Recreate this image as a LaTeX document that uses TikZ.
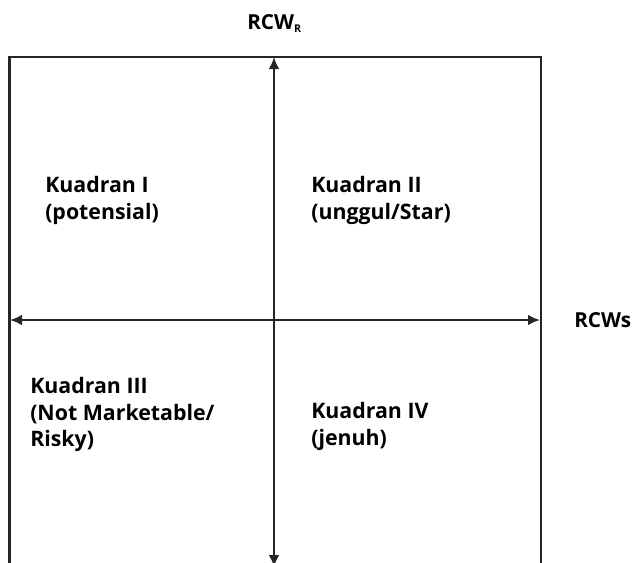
\documentclass[tikz,border=0pt]{standalone}
\usepackage{fontspec}
\setmainfont{Open Sans}
\usetikzlibrary{arrows.meta}
\begin{document}
\begin{tikzpicture}[x=0.75pt, y=-0.75pt,
  quad/.style = {anchor=north west, inner sep=0pt, align=left,
    font=\fontsize{16}{20}\selectfont\bfseries},
  axislabel/.style = {inner sep=0pt, font=\fontsize{15.5}{18}\selectfont\bfseries},
  frame/.style = {line width=1.6pt, draw=black!85},
  axis/.style = {line width=1.6pt, draw=black!85, {Latex[length=9pt,width=8pt]}-{Latex[length=9pt,width=8pt]}}]
  \clip (0,0) rectangle (639,562);
  % corners of the open box and ends of the two axes
  \coordinate (bl) at (9.5,575);
  \coordinate (tl) at (9.5,57);
  \coordinate (tr) at (541,57);
  \coordinate (br) at (541,575);
  \coordinate (top) at (274,57);
  \coordinate (bottom) at (274,567);
  \coordinate (left) at (10,320);
  \coordinate (right) at (540,320);
  \draw[frame] (bl) -- (tl) -- (tr) -- (br);
  \draw[axis] (top) -- (bottom);
  \draw[axis] (left) -- (right);
  \node[axislabel, anchor=south west] (rcwr) at (247,33) {RCW\textsubscript{\fontsize{8}{8}\selectfont R}};
  \node[axislabel, anchor=west] (rcws) at (574,320) {RCWs};
  \node[quad] (q1) at (45,176) {Kuadran I\\(potensial)};
  \node[quad] (q2) at (311,176) {Kuadran II\\(unggul/Star)};
  \node[quad] (q3) at (30,377) {Kuadran III\\(Not Marketable/\\Risky)};
  \node[quad] (q4) at (311,402) {Kuadran IV\\(jenuh)};
\end{tikzpicture}
\end{document}
